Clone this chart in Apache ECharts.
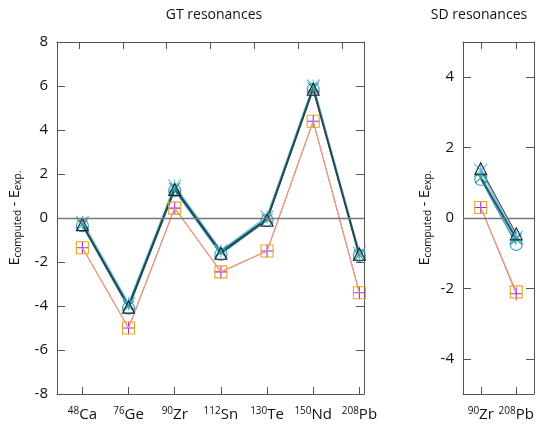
<!DOCTYPE html>
<html>
<head>
<meta charset="utf-8">
<script src="https://cdn.jsdelivr.net/npm/echarts@6/dist/echarts.min.js"></script>
<style>
  html, body { margin: 0; padding: 0; background: #fff; }
  #chart { width: 548px; height: 430px; }
</style>
</head>
<body>
<div id="chart"></div>
<script>
// Nuclei for the two resonance panels
const gtNuclei = [['48', 'Ca'], ['76', 'Ge'], ['90', 'Zr'], ['112', 'Sn'], ['130', 'Te'], ['150', 'Nd'], ['208', 'Pb']];
const sdNuclei = [['90', 'Zr'], ['208', 'Pb']];

// E_computed - E_exp. (MeV) for GT resonances, one array per calculation
const gtPlus     = [-1.35, -5.0, 0.45, -2.45, -1.5, 4.4, -3.4];
const gtSquare   = [-1.35, -5.0, 0.45, -2.45, -1.5, 4.4, -3.4];
const gtStar     = [-0.2, -3.9, 1.45, -1.5, 0.05, 6.0, -1.6];
const gtCross    = [-0.3, -4.0, 1.35, -1.55, -0.05, 5.9, -1.7];
const gtCircle   = [-0.35, -4.1, 1.25, -1.65, -0.1, 5.85, -1.7];
const gtTriangle = [-0.3, -4.05, 1.3, -1.6, -0.1, 5.85, -1.65];

// Same quantity for SD resonances
const sdPlus     = [0.3, -2.15];
const sdSquare   = [0.3, -2.1];
const sdStar     = [1.35, -0.55];
const sdCross    = [1.15, -0.6];
const sdCircle   = [1.1, -0.75];
const sdTriangle = [1.4, -0.45];

// Tick values
const gtYTicks = [-8, -6, -4, -2, 0, 2, 4, 6, 8];
const sdYTicks = [-4, -2, 0, 2, 4];

const FONT = 'Open Sans';
const AXIS_COLOR = '#555';

const pts = arr => arr.map((v, i) => [i, v]);
const nucleusLabel = list => v => {
  const n = list[Math.round(v)];
  return n ? '{sup|' + n[0] + '}{el|' + n[1] + '}' : '';
};
const nucleusRich = {
  sup: { fontSize: 10, fontFamily: FONT, color: '#111', padding: [0, 0, 8, 0] },
  el: { fontSize: 15, fontFamily: FONT, color: '#111' }
};

// Outline-only point symbols (stroked, transparent inside)
const CROSS = 'path://M0,0L10,10M10,0L0,10';
const STAR = 'path://M0,0L10,10M10,0L0,10M5,0L5,10';
const PLUS = 'path://M5,0L5,10M0,5L10,5';
const TRI = 'path://M5,0L10,9L0,9Z';
const RECT = 'path://M0,0L10,0L10,10L0,10Z';
const CIRC = 'path://M0,5A5,5,0,1,1,10,5A5,5,0,1,1,0,5Z';

function frameX(gridIndex, min, max, ticks, position, labels) {
  return {
    type: 'value', gridIndex, position, min, max,
    axisLine: { show: true, onZero: false, lineStyle: { color: AXIS_COLOR, width: 1 } },
    axisTick: { show: true, inside: true, length: 7, customValues: ticks, lineStyle: { color: AXIS_COLOR } },
    axisLabel: labels ? {
      show: true, customValues: ticks, margin: 12,
      formatter: labels, rich: nucleusRich
    } : { show: false },
    splitLine: { show: false }
  };
}

function frameY(gridIndex, min, max, ticks, position, withLabel) {
  const ax = {
    type: 'value', gridIndex, position, min, max,
    axisLine: { show: true, onZero: false, lineStyle: { color: AXIS_COLOR, width: 1 } },
    axisTick: { show: true, inside: true, length: 8, customValues: ticks, lineStyle: { color: AXIS_COLOR } },
    axisLabel: withLabel ? {
      show: true, customValues: ticks, margin: 9,
      fontSize: 15, fontFamily: FONT, color: '#111'
    } : { show: false },
    splitLine: { show: false }
  };
  if (withLabel) {
    ax.name = '{e|E}{s|computed}{e| - E}{s|exp.}';
    ax.nameLocation = 'middle';
    ax.nameGap = withLabel;
    ax.nameRotate = 90;
    ax.nameTextStyle = {
      rich: {
        e: { fontSize: 14, fontFamily: FONT, color: '#111' },
        s: { fontSize: 10, fontFamily: FONT, color: '#111', padding: [6, 0, 0, 0] }
      }
    };
  }
  return ax;
}

function line(name, data, xi, yi, color, width, symbol, size) {
  return {
    name, type: 'line', data: pts(data), xAxisIndex: xi, yAxisIndex: yi,
    symbol, symbolSize: size, showSymbol: true,
    lineStyle: { color: color.line, width },
    itemStyle: { color: 'rgba(0,0,0,0)', borderColor: color.mark, borderWidth: 1.1 },
    emphasis: { disabled: true },
    animation: false, z: 3
  };
}

const zeroLine = {
  silent: true, symbol: 'none', label: { show: false },
  lineStyle: { color: '#777', width: 1.3, type: 'solid' },
  data: [{ yAxis: 0 }]
};

const C = {
  plus:     { line: '#b24ad8', mark: '#a030d0' },
  square:   { line: '#f0a070', mark: '#e8a820' },
  star:     { line: '#80c8f0', mark: '#5ab4e8' },
  circle:   { line: '#3c9ccc', mark: '#3a9ed0' },
  cross:    { line: '#1d5a54', mark: '#2a9e80' },
  triangle: { line: '#3a3a3a', mark: '#222222' }
};

function panel(xi, yi, d, zero) {
  const s = [
    line('plus', d[0], xi, yi, C.plus, 1, PLUS, 13),
    line('square', d[1], xi, yi, C.square, 1.2, RECT, 12),
    line('star', d[2], xi, yi, C.star, 2.2, STAR, 13),
    line('circle', d[4], xi, yi, C.circle, 1.3, CIRC, 12),
    line('cross', d[3], xi, yi, C.cross, 2, CROSS, 11),
    line('triangle', d[5], xi, yi, C.triangle, 1, TRI, 12)
  ];
  s[0].markLine = zero;
  s[0].z = 2;
  return s;
}

const option = {
  backgroundColor: '#fff',
  animation: false,
  title: [
    { text: 'GT resonances', left: 209, top: 3, textAlign: 'center',
      textStyle: { fontSize: 14, fontWeight: 'normal', fontFamily: FONT, color: '#111' } },
    { text: 'SD resonances', left: 474, top: 3, textAlign: 'center',
      textStyle: { fontSize: 14, fontWeight: 'normal', fontFamily: FONT, color: '#111' } }
  ],
  grid: [
    { left: 55, top: 42, width: 309, height: 352 },
    { left: 463, top: 42, width: 71, height: 352 }
  ],
  xAxis: [
    frameX(0, -0.55, 6.1, [0, 1, 2, 3, 4, 5, 6], 'bottom', nucleusLabel(gtNuclei)),
    frameX(0, -0.5, 6.5, [0, 1, 2, 3, 4, 5, 6], 'top', null),
    frameX(1, -0.5, 1.5, [0, 1], 'bottom', nucleusLabel(sdNuclei)),
    frameX(1, -0.5, 1.5, [0, 1], 'top', null)
  ],
  yAxis: [
    frameY(0, -8, 8, gtYTicks, 'left', 34),
    frameY(0, -8, 8, gtYTicks, 'right', 0),
    frameY(1, -5, 5, sdYTicks, 'left', 30),
    frameY(1, -5, 5, sdYTicks, 'right', 0)
  ],
  series: [
    ...panel(0, 0, [gtPlus, gtSquare, gtStar, gtCross, gtCircle, gtTriangle], zeroLine),
    ...panel(2, 2, [sdPlus, sdSquare, sdStar, sdCross, sdCircle, sdTriangle], zeroLine)
  ]
};

const chart = echarts.init(document.getElementById('chart'), null, { renderer: 'canvas' });
chart.setOption(option);
</script>
</body>
</html>
